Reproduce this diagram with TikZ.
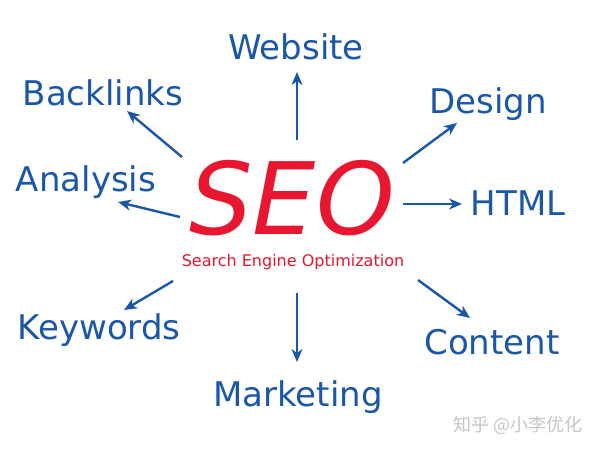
\documentclass[tikz,border=0pt]{standalone}
\usepackage{fontspec}
\setmainfont{DejaVu Sans}
\newfontfamily\cjk{Noto Sans CJK SC}
\usetikzlibrary{arrows.meta}
\definecolor{seoblue}{HTML}{1A57A8}
\definecolor{seored}{HTML}{E8162E}
\tikzset{
  lbl/.style={text=seoblue, font=\fontsize{34}{36}\selectfont, inner sep=0pt, anchor=center},
  arr/.style={draw=seoblue, line width=2.4pt, -{Stealth[length=13pt,width=11pt,inset=4pt]}}
}
\begin{document}
\begin{tikzpicture}[x=1pt,y=-1pt]
\useasboundingbox[fill=white] (0,0) rectangle (600,450);
\node[lbl] (web) at (296,47) {Website};
\node[lbl] (back) at (103,93) {Backlinks};
\node[lbl] (ana) at (86,182) {Analysis};
\node[lbl] (key) at (99,330) {Keywords};
\node[lbl] (mkt) at (298,397) {Marketing};
\node[lbl] (con) at (492,342) {Content};
\node[lbl] (html) at (518,203) {HTML};
\node[lbl] (des) at (488,104) {Design};
\node[text=seored, font=\fontsize{100}{100}\selectfont\itshape, inner sep=0pt, text depth=0pt] (seo) at (292,197) {SEO};
\node[text=seored, font=\fontsize{16}{17}\selectfont, inner sep=0pt] (sub) at (293,262) {Search Engine Optimization};
\node[text=gray!45, font=\cjk\fontsize{18}{19}\selectfont, inner sep=0pt] (wm) at (518,425) {知乎 @小李优化};
\coordinate (t1) at (297,140); \coordinate (h1) at (297,72);
\coordinate (t2) at (182,157); \coordinate (h2) at (127,111);
\coordinate (t3) at (180,217); \coordinate (h3) at (118,202);
\coordinate (t4) at (403,163); \coordinate (h4) at (457,123);
\coordinate (t5) at (403,204); \coordinate (h5) at (462,204);
\coordinate (t6) at (173,281); \coordinate (h6) at (124,310);
\coordinate (t7) at (297,293); \coordinate (h7) at (297,362);
\coordinate (t8) at (418,280); \coordinate (h8) at (470,318);
\foreach \i in {1,...,8} { \draw[arr] (t\i) -- (h\i); }
\end{tikzpicture}
\end{document}
